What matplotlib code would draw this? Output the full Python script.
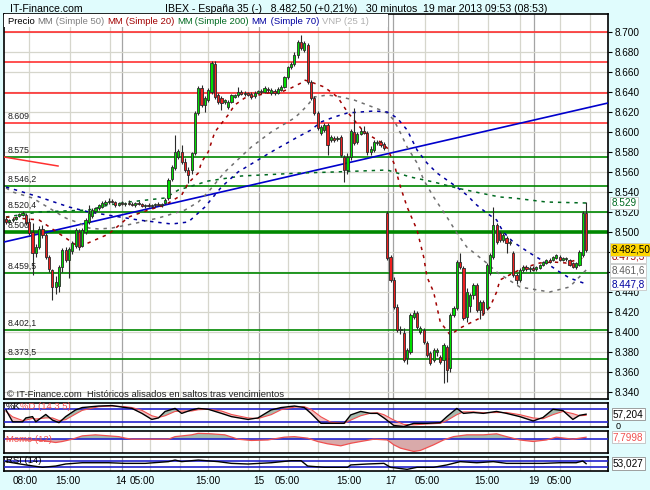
import matplotlib
matplotlib.use("Agg")
import matplotlib.pyplot as plt
import matplotlib.transforms as mtransforms
from matplotlib.patches import Rectangle
import numpy as np

plt.rcParams['font.family'] = ['Liberation Sans', 'DejaVu Sans']

# 30 minute candles, IBEX 35, 13-19 mar 2013
opens = [8513, 8510, 8512, 8513, 8516, 8517, 8517, 8510, 8500, 8479,
         8485, 8503, 8497, 8475, 8462, 8445, 8446, 8465, 8482, 8472,
         8481, 8486, 8500, 8486, 8500, 8510, 8516, 8521, 8524, 8525,
         8528, 8530, 8531, 8530, 8527, 8529, 8528, 8529, 8528, 8527,
         8529, 8528, 8526, 8527, 8526, 8527, 8528, 8527, 8529, 8534,
         8553, 8564, 8575, 8580, 8570, 8562, 8562, 8579, 8619, 8644,
         8627, 8632, 8640, 8668, 8637, 8634, 8630, 8625, 8630, 8635,
         8637, 8640, 8638, 8639, 8638, 8636, 8639, 8641, 8640, 8643,
         8639, 8641, 8639, 8642, 8645, 8655, 8665, 8668, 8677, 8690,
         8682, 8687, 8650, 8634, 8619, 8599, 8602, 8607, 8592, 8594,
         8593, 8595, 8575, 8562, 8575, 8600, 8590, 8598, 8601, 8599,
         8580, 8582, 8589, 8590, 8588, 8519, 8475, 8452, 8425, 8402,
         8399, 8374, 8380, 8415, 8419, 8400, 8402, 8389, 8379, 8372,
         8380, 8375, 8372, 8385, 8364, 8417, 8424, 8470, 8464, 8415,
         8426, 8437, 8447, 8422, 8430, 8424, 8459, 8475, 8507, 8499,
         8492, 8494, 8489, 8479, 8457, 8452, 8462, 8465, 8463, 8464,
         8463, 8464, 8467, 8469, 8472, 8472, 8474, 8475, 8472, 8473,
         8472, 8469, 8465, 8467, 8477, 8519]
highs = [8515, 8513, 8515, 8516, 8519, 8521, 8519, 8514, 8509, 8488,
         8506, 8507, 8499, 8477, 8463, 8456, 8467, 8484, 8485, 8485,
         8491, 8504, 8503, 8504, 8514, 8527, 8524, 8525, 8528, 8531,
         8532, 8534, 8533, 8531, 8530, 8531, 8530, 8532, 8530, 8530,
         8531, 8529, 8528, 8529, 8528, 8529, 8530, 8529, 8534, 8554,
         8567, 8597, 8583, 8587, 8574, 8565, 8580, 8621, 8646, 8647,
         8636, 8644, 8671, 8671, 8639, 8636, 8633, 8632, 8638, 8638,
         8645, 8642, 8641, 8640, 8640, 8641, 8642, 8643, 8646, 8645,
         8644, 8643, 8645, 8647, 8656, 8666, 8670, 8680, 8692, 8697,
         8691, 8689, 8652, 8636, 8621, 8607, 8609, 8609, 8597, 8596,
         8596, 8597, 8577, 8579, 8603, 8624, 8600, 8604, 8606, 8601,
         8586, 8592, 8592, 8592, 8590, 8521, 8477, 8455, 8428, 8406,
         8404, 8384, 8419, 8422, 8421, 8406, 8404, 8391, 8381, 8384,
         8384, 8377, 8389, 8387, 8419, 8426, 8472, 8479, 8466, 8444,
         8439, 8449, 8449, 8432, 8432, 8469, 8479, 8525, 8509, 8501,
         8499, 8496, 8492, 8481, 8459, 8464, 8467, 8467, 8466, 8466,
         8466, 8468, 8471, 8473, 8474, 8476, 8478, 8477, 8475, 8475,
         8473, 8470, 8470, 8482, 8521, 8530]
lows = [8508, 8509, 8510, 8512, 8515, 8516, 8507, 8497, 8457, 8475,
        8483, 8494, 8473, 8460, 8432, 8438, 8440, 8460, 8470, 8454,
        8478, 8484, 8482, 8485, 8498, 8508, 8514, 8519, 8522, 8524,
        8527, 8528, 8529, 8525, 8526, 8527, 8526, 8527, 8526, 8525,
        8527, 8525, 8524, 8525, 8524, 8525, 8526, 8525, 8528, 8532,
        8551, 8562, 8573, 8568, 8560, 8549, 8558, 8577, 8617, 8625,
        8620, 8630, 8638, 8633, 8628, 8622, 8628, 8623, 8629, 8634,
        8635, 8637, 8636, 8636, 8633, 8634, 8638, 8638, 8639, 8640,
        8637, 8637, 8638, 8641, 8644, 8653, 8663, 8666, 8674, 8682,
        8680, 8648, 8632, 8617, 8602, 8597, 8600, 8577, 8590, 8590,
        8591, 8575, 8550, 8558, 8572, 8587, 8588, 8597, 8598, 8577,
        8577, 8580, 8587, 8585, 8582, 8472, 8450, 8423, 8400, 8398,
        8370, 8368, 8378, 8413, 8403, 8398, 8388, 8375, 8367, 8370,
        8376, 8368, 8349, 8350, 8360, 8415, 8422, 8463, 8412, 8410,
        8420, 8433, 8420, 8413, 8417, 8422, 8457, 8473, 8488, 8490,
        8490, 8479, 8487, 8455, 8448, 8450, 8460, 8461, 8460, 8461,
        8461, 8463, 8466, 8468, 8469, 8471, 8473, 8471, 8471, 8471,
        8466, 8464, 8463, 8466, 8475, 8480]
closes = [8510, 8512, 8513, 8515, 8518, 8519, 8509, 8499, 8479, 8485,
          8503, 8497, 8475, 8463, 8445, 8450, 8465, 8482, 8472, 8483,
          8489, 8502, 8485, 8502, 8512, 8519, 8522, 8524, 8527, 8529,
          8530, 8531, 8530, 8527, 8529, 8528, 8529, 8528, 8527, 8529,
          8528, 8526, 8527, 8526, 8527, 8528, 8527, 8528, 8532, 8552,
          8565, 8580, 8581, 8570, 8562, 8557, 8579, 8619, 8644, 8627,
          8634, 8642, 8669, 8635, 8630, 8629, 8632, 8630, 8637, 8637,
          8640, 8638, 8639, 8637, 8635, 8639, 8641, 8640, 8644, 8642,
          8642, 8639, 8643, 8645, 8655, 8665, 8668, 8677, 8690, 8684,
          8689, 8650, 8634, 8619, 8604, 8605, 8607, 8587, 8595, 8592,
          8594, 8577, 8562, 8575, 8601, 8589, 8598, 8601, 8599, 8580,
          8583, 8590, 8590, 8587, 8584, 8474, 8452, 8425, 8402, 8403,
          8372, 8382, 8417, 8419, 8405, 8404, 8390, 8377, 8369, 8382,
          8382, 8370, 8387, 8362, 8417, 8424, 8470, 8465, 8414, 8440,
          8437, 8447, 8422, 8430, 8419, 8467, 8477, 8507, 8490, 8492,
          8497, 8489, 8490, 8457, 8452, 8462, 8465, 8463, 8464, 8462,
          8465, 8467, 8470, 8472, 8470, 8475, 8477, 8472, 8474, 8474,
          8467, 8465, 8469, 8480, 8519, 8482.5]

# moving averages, read at a few bars
ma20_at = [0, 10, 22, 31, 37, 43, 48, 53, 55, 58, 59, 61, 63, 67, 69, 72, 75, 79, 83,
           86, 89, 90, 92, 96, 100, 103, 108, 113, 115, 117, 119, 121, 124, 126, 127,
           129, 131, 134, 137, 140, 143, 146, 148, 149, 153, 156, 161, 165, 169, 175]
ma20 = [8515, 8512, 8485, 8498, 8515, 8522, 8527, 8537, 8549, 8559, 8570, 8580, 8600,
        8617, 8627, 8634, 8636, 8639, 8640, 8644, 8649, 8652, 8650, 8645, 8635, 8620,
        8600, 8590, 8584, 8569, 8545, 8525, 8502, 8475, 8455, 8440, 8410, 8397, 8404,
        8409, 8414, 8425, 8440, 8452, 8459, 8464, 8469, 8470, 8469, 8475]
ma50_at = [0, 2, 8, 10, 13, 18, 22, 25, 28, 32, 38, 46, 54, 58, 61, 66, 74, 80, 87, 89,
           91, 93, 97, 101, 105, 109, 113, 115, 117, 119, 121, 124, 126, 129, 133, 136,
           139, 142, 145, 148, 155, 164, 170, 175]
ma50 = [8544, 8540, 8534, 8530, 8524, 8514, 8509, 8504, 8503, 8504, 8508, 8514, 8522,
        8530, 8540, 8560, 8585, 8600, 8614, 8620, 8627, 8635, 8637, 8635, 8632, 8627,
        8622, 8619, 8612, 8599, 8585, 8569, 8552, 8535, 8515, 8499, 8485, 8477, 8469,
        8460, 8445, 8440, 8445, 8462]
ma70_at = [0, 10, 19, 25, 40, 50, 55, 60, 65, 70, 80, 88, 92, 95, 99, 103, 107, 111,
           115, 118, 121, 124, 127, 130, 133, 136, 139, 142, 145, 148, 150, 153, 158,
           163, 167, 170, 175]
ma70 = [8545, 8535, 8525, 8520, 8512, 8508, 8510, 8525, 8545, 8560, 8580, 8595, 8602,
        8610, 8615, 8619, 8620, 8621, 8620, 8614, 8602, 8582, 8569, 8559, 8552, 8545,
        8537, 8527, 8519, 8512, 8500, 8490, 8479, 8469, 8460, 8454, 8448]
ma200_at = [0, 10, 25, 31, 37, 48, 52, 55, 61, 71, 89, 99, 115, 122, 129, 136, 143,
            149, 153, 163, 175]
ma200 = [8515, 8520, 8522, 8527, 8530, 8534, 8542, 8545, 8551, 8556, 8559, 8560, 8562,
         8555, 8550, 8544, 8539, 8535, 8534, 8530, 8529]

# drawn lines
red_levels = [8700, 8670, 8639, 8609]
green_levels = [8575, 8546.2, 8520.4, 8500, 8459.5, 8402.1, 8373.5]
level_values = [8609, 8575, 8546.2, 8520.4, 8500, 8459.5, 8402.1, 8373.5]
level_texts = ['8.609', '8.575', '8.546,2', '8.520,4', '8.500', '8.459,5', '8.402,1', '8.373,5']
trend_x = [-0.6, 181.6]
trend_y = [8490, 8629]
short_x = [-0.6, 15.7]
short_y = [8575, 8566]

# stochastic %K / %D
sto_at = [0, 2, 5, 6, 8, 9, 12, 14, 16, 18, 21, 23, 28, 32, 36, 38, 41, 44, 46, 48,
          51, 53, 56, 58, 61, 65, 68, 73, 76, 80, 83, 87, 90, 92, 95, 98, 102, 104,
          107, 110, 112, 114, 117, 120, 123, 127, 131, 133, 136, 138, 141, 144, 148,
          151, 155, 159, 162, 165, 168, 171, 173, 175]
pct_k = [77, 22, 22, 40, 46, 22, 56, 30, 18, 46, 77, 88, 95, 97, 88, 84, 61, 33, 40, 70,
         84, 61, 77, 84, 80, 61, 46, 33, 40, 77, 88, 95, 88, 61, 15, 15, 15, 54, 70, 61,
         61, 40, 5, 0, 15, 15, 18, 46, 84, 61, 65, 61, 70, 61, 46, 26, 42, 80, 74, 33,
         52, 57.2]
pct_d = [70, 45, 28, 30, 38, 35, 40, 40, 28, 32, 58, 75, 92, 95, 92, 88, 75, 50, 42, 50,
         70, 72, 72, 78, 80, 72, 56, 40, 37, 55, 78, 90, 92, 80, 45, 20, 15, 30, 50, 62,
         64, 55, 30, 10, 8, 12, 15, 28, 55, 68, 68, 64, 65, 65, 55, 40, 36, 55, 70, 60,
         50, 52]

# momentum (12)
momo_at = [0, 6, 11, 15, 17, 20, 23, 27, 34, 36, 38, 49, 51, 56, 58, 62, 66, 70, 74,
           79, 84, 87, 91, 94, 97, 101, 104, 107, 111, 115, 117, 119, 123, 125, 129,
           132, 135, 139, 144, 148, 151, 155, 159, 163, 166, 171, 175]
momo = [0, -3, -5, -13, -9, 0, 13, 17, 10, 4, 0, 0, 10, 17, 23, 21, 17, 0, -5, -3, 8,
        10, 4, -9, -18, -26, -16, -9, 0, -3, -22, -35, -48, -44, -22, -3, 10, 17, 17,
        21, 10, -3, -9, -3, 8, 0, 7.8]

# RSI (14)
rsi_at = [0, 6, 11, 15, 18, 23, 31, 36, 42, 49, 51, 53, 58, 64, 68, 73, 80, 86, 89,
          91, 96, 103, 104, 109, 114, 116, 121, 124, 129, 133, 137, 142, 147, 151,
          156, 162, 167, 172, 174, 175]
rsi = [66, 45, 30, 38, 51, 59, 59, 55, 55, 66, 76, 66, 76, 66, 55, 51, 59, 72, 72, 38,
       30, 30, 45, 51, 55, 30, 17, 30, 30, 45, 66, 59, 66, 55, 55, 55, 59, 59, 70, 53.03]

# time axis
tick_pos = [5.7, 18.7, 34.7, 41, 61, 76.3, 84.8, 103.5, 116, 127, 145, 159.3, 167]
tick_text = ['08:00', '15:00', '14', '05:00', '15:00', '15', '05:00', '15:00', '17',
             '05:00', '15:00', '19', '05:00']
grid_pos = [6.9, 19.3, 31.4, 43.5, 52.5, 61, 73, 85, 94, 103.5, 126.4, 136.4, 145.4,
            155, 167, 176.2]
day_pos = [35, 76.3, 115.3, 116.8, 159.3]

BG = '#E0FCFD'
GRID = '#D6D6CC'
W, H = 650, 490

fig = plt.figure(figsize=(6.5, 4.9), dpi=100, facecolor=BG)


def panel(x0, y0, x1, y1):
    a = fig.add_axes([x0 / W, 1 - y1 / H, (x1 - x0) / W, (y1 - y0) / H])
    a.set_facecolor('white')
    a.set_xlim(-0.6, 181.6)
    for s in a.spines.values():
        s.set_color('black')
        s.set_linewidth(1.2)
    for g in grid_pos:
        a.axvline(g, color=GRID, lw=0.9, zorder=1)
    for g in day_pos:
        a.axvline(g, color='#A4A4A4', lw=0.9, zorder=1)
    a.set_xticks([])
    a.tick_params(left=False, labelleft=False)
    return a


ax = panel(4, 14, 608, 399)
ax.set_ylim(8333, 8718)
for v in range(8340, 8720, 20):
    ax.axhline(v, color=GRID, lw=0.9, zorder=1)
ax.yaxis.tick_right()
ticks = list(range(8340, 8701, 20))
ax.set_yticks(ticks)
ax.set_yticklabels(['%.3f' % (t / 1000.0) for t in ticks])
ax.tick_params(axis='y', right=True, labelright=True, direction='out', length=3,
               pad=1.5, labelsize=7.2, colors='black')

for lv in red_levels:
    ax.axhline(lv, color='#FF2020', lw=1.1, zorder=2)
for lv in green_levels:
    ax.axhline(lv, color='#008800', lw=2.6 if lv == 8500 else 1.2, zorder=2)
for lv, tx in zip(level_values, level_texts):
    ax.text(0.4, lv + 2, tx, fontsize=6.3, color='#202020', va='bottom', ha='left', zorder=7)

ax.plot(trend_x, trend_y, color='#0000CC', lw=1.2, zorder=3)
ax.plot(short_x, short_y, color='#FF3030', lw=1.1, zorder=3)

dash = (0, (2.2, 3.2))
ax.plot(ma200_at, ma200, color='#006A20', lw=1.1, ls=dash, zorder=3)
ax.plot(ma50_at, ma50, color='#707070', lw=1.1, ls=dash, zorder=3)
ax.plot(ma70_at, ma70, color='#0000A0', lw=1.1, ls=dash, zorder=3)
ax.plot(ma20_at, ma20, color='#A00000', lw=1.1, ls=dash, zorder=3)

o = np.array(opens, dtype=float)
h = np.array(highs, dtype=float)
l = np.array(lows, dtype=float)
c = np.array(closes, dtype=float)
x = np.arange(len(c))
up = c >= o
ax.vlines(x, l, h, color='#2A2A2A', lw=0.8, zorder=4)
ax.bar(x[up], (c - o)[up], bottom=o[up], width=0.66, color='#00DD00',
       edgecolor='#2A2A2A', linewidth=0.6, zorder=5)
ax.bar(x[~up], (c - o)[~up], bottom=o[~up], width=0.66, color='#EE2020',
       edgecolor='#2A2A2A', linewidth=0.6, zorder=5)

# legend strip
ax.add_patch(Rectangle((0, 1 - 13.5 / 385), 384 / 604, 13.5 / 385, transform=ax.transAxes,
                       facecolor='white', edgecolor='none', zorder=6))
parts = [('Precio ', 'black'), ('MM', '#707070'), (' (Simple 50) ', '#808080'),
         ('MM', '#A00000'), (' (Simple 20) ', '#A00000'), ('MM', '#006A20'),
         (' (Simple 200) ', '#006A20'), ('MM', '#0000A0'), (' (Simple 70) ', '#0000A0'),
         ('VNP (25 1)', '#B0B0B0')]
prev = ax.text(4 / 604, 1 - 7 / 385, parts[0][0], transform=ax.transAxes, fontsize=6.8,
               color=parts[0][1], va='center', ha='left', zorder=7)
for txt, col in parts[1:]:
    prev = ax.annotate(txt, xy=(1, 0), xycoords=prev, va='bottom', ha='left',
                       fontsize=6.8, color=col, zorder=7)

ax.text(3 / 604, 5 / 385, '\u00a9 IT-Finance.com  Históricos alisados en saltos tras vencimientos',
        transform=ax.transAxes, fontsize=6.8, color='#202020', va='center', ha='left', zorder=7)

# value tags on the right
tr = mtransforms.blended_transform_factory(ax.transAxes, ax.transData)
tags = [(8529, '8.529', '#006A20', 'white'), (8475.3, '8.475,3', '#A00000', 'white'),
        (8482.5, '8.482,50', 'black', '#FFD700'), (8461.6, '8.461,6', '#606060', 'white'),
        (8447.8, '8.447,8', '#0000A0', 'white')]
for yv, tx, col, fc in tags:
    ax.text(1.006, yv, tx, transform=tr, fontsize=7.2, color=col, va='center', ha='left',
            zorder=8, clip_on=False,
            bbox=dict(boxstyle='square,pad=0.12', facecolor=fc, edgecolor='#C8C8C8', lw=0.6))

# stochastic panel
ka = panel(4, 403, 608, 427)
ka.set_ylim(-2, 109)
ka.axhline(80, color='#2222CC', lw=1.2, zorder=3)
ka.axhline(20, color='#2222CC', lw=1.2, zorder=3)
kk = np.array(pct_k)
dd = np.array(pct_d)
ka.fill_between(sto_at, kk, dd, where=kk >= dd, interpolate=True, color='#A7BCAE', lw=0, zorder=2)
ka.fill_between(sto_at, kk, dd, where=kk < dd, interpolate=True, color='#F2C4C4', lw=0, zorder=2)
ka.plot(sto_at, pct_d, color='#F05050', lw=0.8, zorder=4)
ka.plot(sto_at, pct_k, color='black', lw=1.0, zorder=4)
ka.text(2 / 604, 0.86, '%K', transform=ka.transAxes, fontsize=6.8, color='black', va='center')
ka.text(16 / 604, 0.86, '%D (14 3 5)', transform=ka.transAxes, fontsize=6.8, color='#F05050',
        va='center')
ka.text(1.008, 57.2, '57,204', transform=mtransforms.blended_transform_factory(ka.transAxes, ka.transData),
        fontsize=7.2, va='center', ha='left', clip_on=False,
        bbox=dict(boxstyle='square,pad=0.12', facecolor='white', edgecolor='#909090', lw=0.6))
ka.text(1.012, 1, '0', transform=mtransforms.blended_transform_factory(ka.transAxes, ka.transData),
        fontsize=6.5, va='center', ha='left', clip_on=False)

# momentum panel
ma = panel(4, 430.5, 608, 453)
ma.set_ylim(-54, 34)
mo = np.array(momo)
ma.fill_between(momo_at, 0, mo, where=mo >= 0, interpolate=True, color='#A7BCAE', lw=0, zorder=2)
ma.fill_between(momo_at, 0, mo, where=mo < 0, interpolate=True, color='#D9AAAA', lw=0, zorder=2)
ma.plot(momo_at, momo, color='#F05050', lw=0.9, zorder=4)
ma.axhline(0, color='#2222CC', lw=1.2, zorder=3)
ma.text(2 / 604, 0.62, 'Momo (12)', transform=ma.transAxes, fontsize=6.8, color='#F05050',
        va='center')
ma.text(1.008, 7.8, '7,7998', transform=mtransforms.blended_transform_factory(ma.transAxes, ma.transData),
        fontsize=7.2, color='#F05050', va='center', ha='left', clip_on=False,
        bbox=dict(boxstyle='square,pad=0.12', facecolor='white', edgecolor='#C0C0C0', lw=0.6))

# RSI panel
ra = panel(4, 456.5, 608, 470.5)
ra.set_ylim(9.7, 98.6)
ra.axhline(70, color='#2222CC', lw=1.2, zorder=3)
ra.axhline(30, color='#2222CC', lw=1.2, zorder=3)
ra.plot(rsi_at, rsi, color='black', lw=1.0, zorder=4)
ra.text(2 / 604, 0.72, 'RSI (14)', transform=ra.transAxes, fontsize=6.8, color='black',
        va='center')
ra.text(1.008, 53.0, '53,027', transform=mtransforms.blended_transform_factory(ra.transAxes, ra.transData),
        fontsize=7.2, va='center', ha='left', clip_on=False,
        bbox=dict(boxstyle='square,pad=0.12', facecolor='white', edgecolor='#909090', lw=0.6))
ra.set_xticks(tick_pos)
ra.set_xticklabels(tick_text)
ra.tick_params(axis='x', length=0, pad=4, labelsize=7.2)

# header
fig.text(10 / W, 1 - 9 / H, 'IT-Finance.com', fontsize=7.6, va='center', ha='left')
fig.text(165 / W, 1 - 9 / H,
         'IBEX - España 35 (-)   8.482,50 (+0,21%)   30 minutos  19 mar 2013 09:53 (08:53)',
         fontsize=7.6, va='center', ha='left')

fig.savefig('out.png', dpi=100, facecolor=BG)
